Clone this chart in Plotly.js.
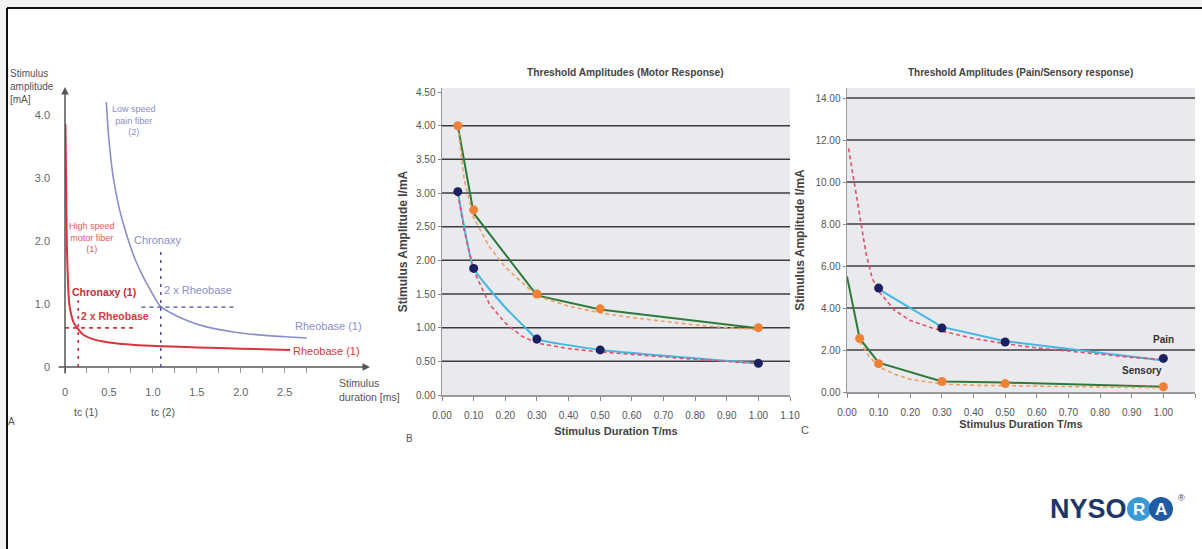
<!DOCTYPE html>
<html><head><meta charset="utf-8">
<script src="https://cdn.plot.ly/plotly-3.0.1.min.js"></script>
<style>html,body{margin:0;padding:0;background:#fff;}#chart{width:1202px;height:549px;}</style>
</head><body><div id="chart"></div>
<script>
// ---------- Panel A: strength-duration curves ----------
const aMotorX = [0.005, 0.012, 0.02, 0.03, 0.045, 0.06, 0.1, 0.15, 0.2, 0.3, 0.5, 0.8, 1.1, 1.5, 2.0, 2.56];
const aMotorY = [3.85, 3.0, 2.0, 1.5, 1.05, 0.9, 0.7, 0.6, 0.52, 0.45, 0.39, 0.35, 0.33, 0.31, 0.29, 0.27];
const aPainX = [0.47, 0.5, 0.55, 0.62, 0.7, 0.8, 0.9, 1.0, 1.08, 1.2, 1.4, 1.6, 1.9, 2.2, 2.5, 2.75];
const aPainY = [4.2, 3.6, 3.0, 2.5, 2.1, 1.7, 1.4, 1.15, 0.97, 0.86, 0.73, 0.64, 0.56, 0.51, 0.48, 0.46];
const aMotorChronaxy = 0.15, aMotorTwoRheo = 0.62;
const aPainChronaxy = 1.09, aPainTwoRheo = 0.95;
const aXTicks = [0, 0.25, 0.5, 0.75, 1.0, 1.25, 1.5, 1.75, 2.0, 2.25, 2.5, 2.75];
const aXLabels = ["0", "", "0.5", "", "1.0", "", "1.5", "", "2.0", "", "2.5", ""];
const aYTicks = [0, 1, 2, 3, 4];
const aYLabels = ["0", "1.0", "2.0", "3.0", "4.0"];

// ---------- Panel B: motor response ----------
const bDur = [0.05, 0.10, 0.30, 0.50, 1.00];
const bUpper = [4.00, 2.75, 1.50, 1.28, 1.00];
const bUpperLine = [4.00, 2.70, 1.48, 1.27, 0.99];
const bUpperFitX = [0.05, 0.07, 0.10, 0.15, 0.20, 0.30, 0.40, 0.50, 0.60, 0.70, 0.80, 0.90, 1.00];
const bUpperFitY = [4.00, 3.20, 2.63, 2.20, 1.90, 1.47, 1.32, 1.22, 1.15, 1.09, 1.04, 1.00, 0.97];
const bLower = [3.02, 1.88, 0.83, 0.67, 0.47];
const bLowerLineX = [0.05, 0.10, 0.20, 0.27, 0.30, 0.50, 1.00];
const bLowerLineY = [3.02, 1.88, 1.30, 0.97, 0.83, 0.67, 0.47];
const bLowerFitX = [0.05, 0.07, 0.10, 0.15, 0.20, 0.25, 0.30, 0.40, 0.50, 0.60, 0.70, 0.80, 0.90, 1.00];
const bLowerFitY = [3.00, 2.45, 1.85, 1.35, 1.07, 0.88, 0.77, 0.69, 0.64, 0.60, 0.56, 0.53, 0.50, 0.47];
const bGrid = [0.5, 1.0, 1.5, 2.0, 2.5, 3.0, 3.5, 4.0];
const bYTicks = [0, 0.5, 1.0, 1.5, 2.0, 2.5, 3.0, 3.5, 4.0, 4.5];
const bYLabels = ["0.00", "0.50", "1.00", "1.50", "2.00", "2.50", "3.00", "3.50", "4.00", "4.50"];

// ---------- Panel C: pain / sensory ----------
const cPainDur = [0.10, 0.30, 0.50, 1.00];
const cPain = [4.95, 3.05, 2.38, 1.60];
const cPainLine = [4.90, 3.10, 2.42, 1.50];
const cPainFitX = [0.005, 0.02, 0.04, 0.06, 0.08, 0.10, 0.15, 0.20, 0.30, 0.40, 0.50, 0.60, 0.70, 0.80, 0.90, 1.00];
const cPainFitY = [11.6, 10.2, 8.3, 6.6, 5.4, 4.8, 3.9, 3.4, 2.9, 2.55, 2.3, 2.1, 1.95, 1.8, 1.65, 1.55];
const cSensDur = [0.04, 0.10, 0.30, 0.50, 1.00];
const cSens = [2.55, 1.35, 0.50, 0.40, 0.25];
const cSensLineX = [0.00, 0.04, 0.10, 0.30, 0.50, 1.00];
const cSensLineY = [5.50, 2.55, 1.40, 0.50, 0.45, 0.25];
const cSensFitX = [0.04, 0.07, 0.10, 0.15, 0.20, 0.30, 0.40, 0.50, 0.70, 1.00];
const cSensFitY = [2.40, 1.70, 1.20, 0.85, 0.60, 0.38, 0.32, 0.30, 0.25, 0.20];
const cGrid = [2, 4, 6, 8, 10, 12, 14];
const cYTicks = [0, 2, 4, 6, 8, 10, 12, 14];
const cYLabels = ["0.00", "2.00", "4.00", "6.00", "8.00", "10.00", "12.00", "14.00"];

const durTicks = [0, 0.1, 0.2, 0.3, 0.4, 0.5, 0.6, 0.7, 0.8, 0.9, 1.0, 1.1];
const durLabels = ["0.00", "0.10", "0.20", "0.30", "0.40", "0.50", "0.60", "0.70", "0.80", "0.90", "1.00", "1.10"];

// ---------- styling ----------
const W = 1202, H = 549;
const px = v => v / W, py = v => 1 - v / H;
const NARROW = '"Liberation Sans Narrow", "Arial Narrow", "Liberation Sans", Arial, sans-serif';
const SANS = '"Liberation Sans", Arial, sans-serif';
const RED = '#d8343f', LAV = '#8a8fca', NAVYD = '#3d4a94';
const GREEN = '#2f7a3a', ORANGE = '#f08035', ORDASH = '#f0a060';
const NAVY = '#1c1f60', LBLUE = '#45b6e2', PINK = '#e2506e';
const BG = '#e8eaee';

const traces = [
  // A
  {x: aMotorX, y: aMotorY, xaxis: 'x', yaxis: 'y', mode: 'lines', line: {color: RED, width: 2, shape: 'spline', smoothing: 0.6}},
  {x: aPainX, y: aPainY, xaxis: 'x', yaxis: 'y', mode: 'lines', line: {color: LAV, width: 1.6, shape: 'spline', smoothing: 0.8}},
  {x: [aMotorChronaxy, aMotorChronaxy], y: [0, 1.06], xaxis: 'x', yaxis: 'y', mode: 'lines', line: {color: RED, width: 1.6, dash: '3px,5px'}},
  {x: [0, 0.82], y: [aMotorTwoRheo, aMotorTwoRheo], xaxis: 'x', yaxis: 'y', mode: 'lines', line: {color: RED, width: 1.6, dash: '4px,4px'}},
  {x: [aPainChronaxy, aPainChronaxy], y: [0, 1.86], xaxis: 'x', yaxis: 'y', mode: 'lines', line: {color: NAVYD, width: 1.4, dash: '3px,5px'}},
  {x: [0.87, 1.95], y: [aPainTwoRheo, aPainTwoRheo], xaxis: 'x', yaxis: 'y', mode: 'lines', line: {color: NAVYD, width: 1.4, dash: '4px,4px'}},
  // B
  {x: bDur, y: bUpperLine, xaxis: 'x2', yaxis: 'y2', mode: 'lines', line: {color: GREEN, width: 2}},
  {x: bUpperFitX, y: bUpperFitY, xaxis: 'x2', yaxis: 'y2', mode: 'lines', line: {color: ORDASH, width: 1.6, dash: '4px,3px'}},
  {x: bLowerLineX, y: bLowerLineY, xaxis: 'x2', yaxis: 'y2', mode: 'lines', line: {color: LBLUE, width: 2, shape: 'spline', smoothing: 0.4}},
  {x: bLowerFitX, y: bLowerFitY, xaxis: 'x2', yaxis: 'y2', mode: 'lines', line: {color: PINK, width: 1.6, dash: '4px,3px'}},
  {x: bDur, y: bUpper, xaxis: 'x2', yaxis: 'y2', mode: 'markers', marker: {color: ORANGE, size: 9}},
  {x: bDur, y: bLower, xaxis: 'x2', yaxis: 'y2', mode: 'markers', marker: {color: NAVY, size: 9}},
  // C
  {x: cSensLineX, y: cSensLineY, xaxis: 'x3', yaxis: 'y3', mode: 'lines', line: {color: GREEN, width: 2}},
  {x: cSensFitX, y: cSensFitY, xaxis: 'x3', yaxis: 'y3', mode: 'lines', line: {color: ORDASH, width: 1.6, dash: '4px,3px'}},
  {x: cPainDur, y: cPainLine, xaxis: 'x3', yaxis: 'y3', mode: 'lines', line: {color: LBLUE, width: 2}},
  {x: cPainFitX, y: cPainFitY, xaxis: 'x3', yaxis: 'y3', mode: 'lines', line: {color: PINK, width: 1.6, dash: '4px,3px'}},
  {x: cSensDur, y: cSens, xaxis: 'x3', yaxis: 'y3', mode: 'markers', marker: {color: ORANGE, size: 9}},
  {x: cPainDur, y: cPain, xaxis: 'x3', yaxis: 'y3', mode: 'markers', marker: {color: NAVY, size: 9}}
];

const tickFontA = {family: NARROW, size: 11, color: '#666'};
const tickFontBC = {family: NARROW, size: 10, color: '#555'};

function durAxis(d0, d1, anchor) {
  return {domain: [px(d0), px(d1)], range: [0, 1.1], anchor: anchor, tickmode: 'array',
    tickvals: durTicks, ticktext: durLabels, ticks: 'outside', ticklen: 4, tickcolor: '#888',
    showline: true, linecolor: '#9a9a9a', linewidth: 1.5, showgrid: false, zeroline: false,
    tickfont: tickFontBC, ticklabelstandoff: 6, fixedrange: true};
}
function ampAxis(top, bottom, rmax, vals, labels, anchor, titleText, standoff) {
  return {domain: [py(bottom), py(top)], range: [0, rmax], anchor: anchor, tickmode: 'array',
    tickvals: vals, ticktext: labels, ticks: 'outside', ticklen: 3, tickcolor: '#888',
    showline: true, linecolor: '#9a9a9a', linewidth: 1.5, showgrid: false, zeroline: false,
    tickfont: tickFontBC, fixedrange: true,
    title: {text: titleText, font: {family: SANS, size: 12, color: '#444', weight: 'bold'}, standoff: standoff}};
}

const shapes = [];
// frame
shapes.push({type: 'rect', xref: 'paper', yref: 'paper', x0: 0, x1: 1, y0: py(7), y1: 1, fillcolor: '#f3f3f3', line: {width: 0}, layer: 'below'});
shapes.push({type: 'rect', xref: 'paper', yref: 'paper', x0: 0, x1: px(6), y0: 0, y1: 1, fillcolor: '#f3f3f3', line: {width: 0}, layer: 'below'});
shapes.push({type: 'line', xref: 'paper', yref: 'paper', x0: px(7), x1: 1, y0: py(8), y1: py(8), line: {color: '#111', width: 2}});
shapes.push({type: 'line', xref: 'paper', yref: 'paper', x0: px(7), x1: px(7), y0: py(8), y1: 0, line: {color: '#111', width: 2}});
// panel backgrounds
shapes.push({type: 'rect', xref: 'x2 domain', yref: 'y2 domain', x0: 0, x1: 1, y0: 0, y1: 1, fillcolor: BG, line: {width: 0}, layer: 'below'});
shapes.push({type: 'rect', xref: 'x3 domain', yref: 'y3 domain', x0: 0, x1: 1, y0: 0, y1: 1, fillcolor: BG, line: {width: 0}, layer: 'below'});
bGrid.forEach(v => shapes.push({type: 'line', xref: 'x2', yref: 'y2', x0: 0, x1: 1.1, y0: v, y1: v, line: {color: '#3c3c3c', width: 1.5}, layer: 'below'}));
cGrid.forEach(v => shapes.push({type: 'line', xref: 'x3', yref: 'y3', x0: 0, x1: 1.1, y0: v, y1: v, line: {color: '#3c3c3c', width: 1.5}, layer: 'below'}));
// NYSORA logo discs
shapes.push({type: 'circle', xref: 'paper', yref: 'paper', x0: px(1127), x1: px(1151), y0: py(521), y1: py(497), fillcolor: '#3a98d6', line: {width: 0}});
shapes.push({type: 'circle', xref: 'paper', yref: 'paper', x0: px(1149), x1: px(1173), y0: py(521), y1: py(497), fillcolor: '#1f5aa3', line: {width: 0}});

function T(text, x, y, opts) {
  return Object.assign({text: text, xref: 'paper', yref: 'paper', x: px(x), y: py(y), showarrow: false,
    xanchor: 'center', yanchor: 'middle', font: {family: NARROW, size: 10, color: '#555'}}, opts || {});
}
const annotations = [
  // panel A axes (arrows)
  {xref: 'x', yref: 'y', x: 3.47, y: 0, ax: -313, ay: 0, showarrow: true, arrowhead: 2, arrowsize: 1, arrowwidth: 1.5, arrowcolor: '#555', text: ''},
  {xref: 'x', yref: 'y', x: 0, y: 4.44, ax: 0, ay: 288, showarrow: true, arrowhead: 2, arrowsize: 1, arrowwidth: 1.5, arrowcolor: '#555', text: ''},
  T('Stimulus<br>amplitude<br>[mA]', 8, 86, {xanchor: 'left', align: 'left', font: {family: NARROW, size: 10, color: '#555'}}),
  T('Low speed<br>pain fiber<br>(2)', 134, 120, {font: {family: NARROW, size: 9, color: LAV}}),
  T('High speed<br>motor fiber<br>(1)', 92, 237, {font: {family: NARROW, size: 9, color: '#e25a5a'}}),
  T('Chronaxy', 158, 240, {font: {family: NARROW, size: 11, color: LAV}}),
  T('Chronaxy (1)', 104, 292, {font: {family: NARROW, size: 10.5, color: '#c42f3a', weight: 'bold'}}),
  T('2 x Rheobase', 198, 290, {font: {family: NARROW, size: 11, color: LAV}}),
  T('2 x Rheobase', 115, 316, {font: {family: NARROW, size: 10.5, color: '#d23a44', weight: 'bold'}}),
  T('Rheobase (1)', 328, 326, {font: {family: NARROW, size: 11, color: LAV}}),
  T('Rheobase (1)', 326, 351, {font: {family: NARROW, size: 11, color: RED}}),
  T('Stimulus<br>duration [ms]', 337, 390, {xanchor: 'left', align: 'left', font: {family: NARROW, size: 10.5, color: '#555'}}),
  T('A', 11, 421, {font: {family: NARROW, size: 10, color: '#555'}}),
  T('tc (1)', 86, 412, {font: {family: NARROW, size: 10.5, color: '#555'}}),
  T('tc (2)', 163, 412, {font: {family: NARROW, size: 10.5, color: '#555'}}),
  // panel B/C labels
  T('Threshold Amplitudes (Motor Response)', 625, 73, {font: {family: NARROW, size: 10.2, color: '#444', weight: 'bold'}}),
  T('Threshold Amplitudes (Pain/Sensory response)', 1020, 73, {font: {family: NARROW, size: 10, color: '#444', weight: 'bold'}}),
  T('B', 410, 438, {font: {family: NARROW, size: 10, color: '#555'}}),
  T('C', 805, 430, {font: {family: NARROW, size: 11, color: '#555'}}),
  T('Pain', 1163, 339, {font: {family: NARROW, size: 10, color: '#333', weight: 'bold'}}),
  T('Sensory', 1142, 370, {font: {family: NARROW, size: 10, color: '#333', weight: 'bold'}}),
  // logo
  T('NYSO', 1088, 509, {font: {family: NARROW, size: 27, color: '#1e3768', weight: 'bold'}}),
  T('R', 1139, 509, {font: {family: NARROW, size: 17, color: '#ffffff', weight: 'bold'}}),
  T('A', 1161, 509, {font: {family: NARROW, size: 17, color: '#ffffff', weight: 'bold'}}),
  T('®', 1181, 498, {font: {family: SANS, size: 9, color: '#1e3768'}})
];

const layout = {
  width: W, height: H, margin: {l: 0, r: 0, t: 0, b: 0},
  paper_bgcolor: '#ffffff', plot_bgcolor: 'rgba(0,0,0,0)', showlegend: false,
  xaxis: {domain: [px(65), px(370)], range: [0, 3.47], anchor: 'y', tickmode: 'array', tickvals: aXTicks, ticktext: aXLabels,
    ticks: 'outside', ticklen: 5, tickcolor: '#999', showline: false, showgrid: false, zeroline: false,
    tickfont: tickFontA, ticklabelstandoff: 10, fixedrange: true},
  yaxis: {domain: [py(367), py(87)], range: [0, 4.44], anchor: 'x', tickmode: 'array', tickvals: aYTicks, ticktext: aYLabels,
    ticks: '', showline: false, showgrid: false, zeroline: false, tickfont: tickFontA, ticklabelstandoff: 14, fixedrange: true},
  xaxis2: Object.assign(durAxis(442, 790, 'y2'), {title: {text: 'Stimulus Duration T/ms', font: {family: NARROW, size: 11, color: '#444', weight: 'bold'}, standoff: 8}}),
  yaxis2: ampAxis(88, 395, 4.56, bYTicks, bYLabels, 'x2', 'Stimulus Amplitude I/mA', 6),
  xaxis3: Object.assign(durAxis(847, 1195, 'y3'), {title: {text: 'Stimulus Duration T/ms', font: {family: NARROW, size: 11, color: '#444', weight: 'bold'}, standoff: 4}}),
  yaxis3: ampAxis(88, 392, 14.48, cYTicks, cYLabels, 'x3', 'Stimulus Amplitude I/mA', 8),
  shapes: shapes, annotations: annotations
};

Plotly.newPlot('chart', traces, layout, {displayModeBar: false, staticPlot: true});
</script></body></html>
